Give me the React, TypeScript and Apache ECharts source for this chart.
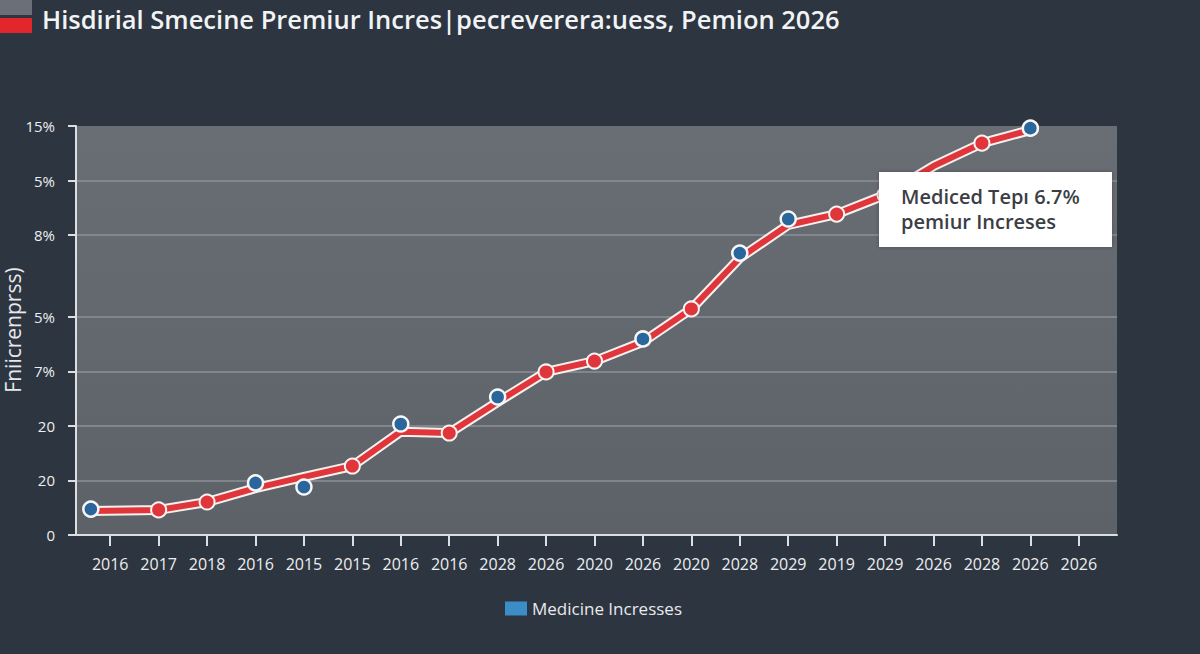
import React, { useEffect, useRef } from "react";
import * as echarts from "echarts";

const titleText = "Hisdirial Smecine Premiur Incres|pecreverera:uess, Pemion 2026";
const yAxisTitle = "Fniicrenprss)";
const legendName = "Medicine Incresses";
const noteLine1 = "Mediced Tepı 6.7%";
const noteLine2 = "pemiur Increses";

const categories = [
  "2016", "2017", "2018", "2016", "2015", "2015", "2016", "2016", "2028", "2026", "2020",
  "2026", "2020", "2028", "2029", "2019", "2029", "2026", "2028", "2026", "2026",
];

// y tick labels on a 0..15 index scale (label slot -> text)
const yTickSlots = [0, 2, 4, 6, 8, 11, 13, 15];
const yTickTexts = ["0", "20", "20", "7%", "5%", "8%", "5%", "15%"];
const yMax = 15;

// line series (position on category scale, value on 0..15 scale)
const linePos = [-0.4, 1, 2, 3, 4, 5, 6, 7, 8, 9, 10, 11, 12, 13, 14, 15, 16, 17, 18, 19];
const lineValues = [0.88, 0.92, 1.21, 1.72, 2.13, 2.53, 3.79, 3.74, 4.88, 5.98, 6.38, 7.08, 8.29, 10.16, 11.37, 11.77, 12.47, 13.53, 14.37, 14.85];
const redMarkerIdx = [1, 2, 5, 7, 9, 10, 12, 15, 16, 18];

// blue markers
const bluePos = [-0.4, 3, 4, 6, 8, 11, 13, 14, 19];
const blueValues = [0.95, 1.91, 1.76, 4.07, 5.06, 7.19, 10.34, 11.59, 14.92];

const FONT = "'Open Sans', 'Noto Sans', sans-serif";

export default function App() {
  const ref = useRef<HTMLDivElement>(null);

  useEffect(() => {
    if (!ref.current) return;
    const chart = echarts.init(ref.current, undefined, { renderer: "svg" });

    const ySlots: string[] = [];
    for (let i = 0; i <= yMax; i++) {
      const k = yTickSlots.indexOf(i);
      ySlots.push(k >= 0 ? yTickTexts[k] : "");
    }
    const isTick = (idx: number) => ySlots[idx] !== "";

    const lineData = linePos.map((x, i) => [x, lineValues[i]]);
    const redData = linePos.map((x, i) =>
      redMarkerIdx.indexOf(i) >= 0
        ? { value: [x, lineValues[i]] }
        : { value: [x, lineValues[i]], symbol: "none" }
    );
    const blueData = bluePos.map((x, i) => [x, blueValues[i]]);

    const option: any = {
      animation: false,
      backgroundColor: "#2d3540",
      textStyle: { fontFamily: FONT },
      title: {
        text: titleText,
        left: 37,
        top: 1,
        textStyle: { fontFamily: FONT, fontSize: 25.5, fontWeight: 600, color: "#f1f3f5" },
      },
      legend: {
        left: 500,
        top: 595,
        itemWidth: 22,
        itemHeight: 14,
        itemGap: 7,
        icon: "rect",
        data: [{ name: legendName, itemStyle: { color: "#3b8dc7", borderWidth: 0 } }],
        textStyle: { color: "#e8eaed", fontSize: 17, fontWeight: 500, fontFamily: FONT },
      },
      grid: [
        {
          left: 76,
          right: 83,
          top: 126,
          bottom: 119,
          show: true,
          borderWidth: 0,
          backgroundColor: new echarts.graphic.LinearGradient(0, 0, 0, 1, [
            { offset: 0, color: "#696d74" },
            { offset: 1, color: "#5d6168" },
          ]),
        },
        { left: 86, right: 97, top: 126, bottom: 119 },
      ],
      xAxis: [
        {
          gridIndex: 0,
          type: "category",
          data: categories,
          axisLine: { show: true, lineStyle: { color: "#dcdee1", width: 2 } },
          axisTick: { show: false },
          axisLabel: { show: false },
          splitLine: { show: false },
        },
        {
          gridIndex: 1,
          type: "category",
          data: categories,
          boundaryGap: true,
          axisLine: { show: false },
          axisTick: { show: true, alignWithLabel: true, length: 11, lineStyle: { color: "#dcdee1", width: 2 } },
          axisLabel: { color: "#eceef0", fontSize: 16, margin: 21, fontFamily: FONT, interval: 0 },
          splitLine: { show: false },
        },
        {
          gridIndex: 1,
          type: "value",
          min: -0.5,
          max: categories.length - 0.5,
          show: false,
        },
      ],
      yAxis: [
        {
          gridIndex: 0,
          type: "category",
          data: ySlots,
          boundaryGap: false,
          axisLine: { show: true, lineStyle: { color: "#dcdee1", width: 2 } },
          axisTick: {
            show: true,
            length: 8,
            interval: (idx: number) => isTick(idx),
            lineStyle: { color: "#dcdee1", width: 2 },
          },
          axisLabel: {
            color: "#eceef0",
            fontSize: 15,
            margin: 21,
            fontFamily: FONT,
            interval: (idx: number) => isTick(idx),
          },
          splitLine: {
            show: true,
            interval: (idx: number) => isTick(idx) && idx !== 0 && idx !== yMax,
            lineStyle: { color: "#8d9197", width: 1.5 },
          },
        },
        { gridIndex: 1, type: "value", min: 0, max: yMax, show: false },
      ],
      series: [
        {
          type: "line",
          name: "outline",
          xAxisIndex: 2,
          yAxisIndex: 1,
          data: lineData,
          symbol: "none",
          lineStyle: { color: "#f4f1ee", width: 10, join: "round", cap: "round" },
          z: 3,
          silent: true,
        },
        {
          type: "line",
          name: "premium",
          xAxisIndex: 2,
          yAxisIndex: 1,
          data: redData,
          showSymbol: true,
          showAllSymbol: true,
          symbol: "circle",
          symbolSize: 15,
          itemStyle: { color: "#e0363b", borderColor: "#f7f5f3", borderWidth: 2 },
          lineStyle: { color: "#e0363b", width: 6, join: "round", cap: "round" },
          z: 4,
        },
        {
          type: "scatter",
          name: legendName,
          xAxisIndex: 2,
          yAxisIndex: 1,
          data: blueData,
          symbol: "circle",
          symbolSize: 15,
          itemStyle: { color: "#2a659b", borderColor: "#f7f7f7", borderWidth: 2.5, opacity: 1 },
          z: 5,
        },
      ],
      graphic: [
        { type: "rect", shape: { x: 0, y: 0, width: 32, height: 15 }, style: { fill: "#6b6f77" } },
        { type: "rect", shape: { x: 0, y: 18, width: 32, height: 15 }, style: { fill: "#e2262b" } },
        {
          type: "text",
          x: 13,
          y: 330,
          rotation: Math.PI / 2,
          style: {
            text: yAxisTitle,
            fill: "#e6e8eb",
            fontSize: 21,
            fontFamily: FONT,
            align: "center",
            verticalAlign: "middle",
          },
        },
        {
          type: "rect",
          z: 100,
          shape: { x: 879, y: 172, width: 233, height: 75 },
          style: { fill: "#ffffff", shadowBlur: 4, shadowColor: "rgba(0,0,0,0.25)" },
        },
        {
          type: "text",
          z: 101,
          x: 901,
          y: 209,
          style: {
            text: noteLine1 + "\n" + noteLine2,
            fill: "#3b3e44",
            fontSize: 20,
            fontWeight: 600,
            lineHeight: 25,
            fontFamily: FONT,
            align: "left",
            verticalAlign: "middle",
          },
        },
      ],
    };

    chart.setOption(option);
    return () => chart.dispose();
  }, []);

  return (
    <div
      ref={ref}
      style={{ position: "absolute", left: 0, top: 0, width: 1200, height: 654 }}
    />
  );
}
